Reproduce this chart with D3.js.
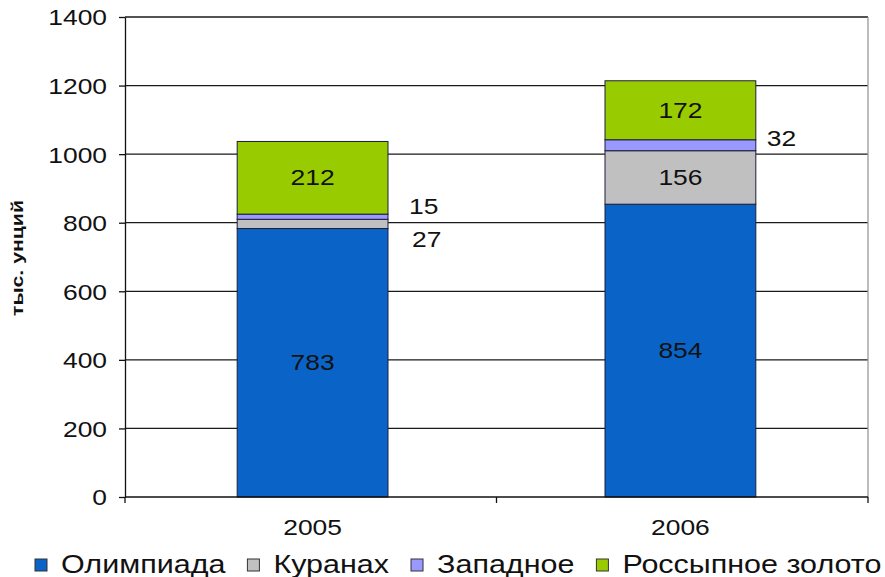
<!DOCTYPE html>
<html>
<head>
<meta charset="utf-8">
<script src="https://cdn.jsdelivr.net/npm/d3@7"></script>
<style>
  body { margin: 0; background: #fff; }
  svg { display: block; font-family: "Liberation Sans", Arial, sans-serif; }
</style>
</head>
<body>
<svg id="chart" width="885" height="577"></svg>
<script>
// data
const years = ["2005", "2006"];
const seriesNames = ["Олимпиада", "Куранах", "Западное", "Россыпное золото"];
const olimpiada = [783, 854];
const kuranakh = [27, 156];
const zapadnoe = [15, 32];
const rossypnoe = [212, 172];
const seriesColors = ["#0a64c8", "#c0c0c0", "#9999ff", "#99cc00"];
const yTicks = [0, 200, 400, 600, 800, 1000, 1200, 1400];

// small segments get their label outside the bar: [dx from bar edge, dy from segment middle]
const outsideLabel = {
  "2005|Куранах": [24, 16],
  "2005|Западное": [21, -10],
  "2006|Западное": [11, -7]
};

const margin = { top: 17, right: 17, bottom: 80, left: 125 };
const width = 885, height = 577;
const sx = 1.2;       // the picture is stretched sideways
const sxLegend = 1.22;

const svg = d3.select("#chart");

const x = d3.scaleBand().domain(years)
  .range([margin.left, width - margin.right])
  .paddingInner(0.59).paddingOuter(0.305);
const y = d3.scaleLinear().domain([0, 1400]).range([height - margin.bottom, margin.top]);

const valuesBySeries = [olimpiada, kuranakh, zapadnoe, rossypnoe];
const table = years.map((yr, i) => {
  const row = { year: yr };
  seriesNames.forEach((s, j) => row[s] = valuesBySeries[j][i]);
  return row;
});
const stacked = d3.stack().keys(seriesNames)(table);

// grid
svg.append("g")
  .selectAll("line")
  .data(yTicks.filter(d => d > 0))
  .join("line")
  .attr("x1", x.range()[0]).attr("x2", x.range()[1])
  .attr("y1", d => y(d)).attr("y2", d => y(d))
  .attr("stroke", "#1a1a1a").attr("stroke-width", 1.3);

// right border of plot area
svg.append("line")
  .attr("x1", x.range()[1]).attr("x2", x.range()[1])
  .attr("y1", y(1400)).attr("y2", y(0))
  .attr("stroke", "#999").attr("stroke-width", 1.3);

// bars
const layer = svg.append("g")
  .selectAll("g")
  .data(stacked)
  .join("g")
  .attr("fill", (d, i) => seriesColors[i]);

layer.selectAll("rect")
  .data(d => d.map(p => Object.assign(p, { key: d.key })))
  .join("rect")
  .attr("x", d => x(d.data.year))
  .attr("width", x.bandwidth())
  .attr("y", d => y(d[1]))
  .attr("height", d => y(d[0]) - y(d[1]))
  .attr("stroke", "#1c1c3c").attr("stroke-width", 1);

// value labels
const labels = [];
stacked.forEach(s => s.forEach(p => labels.push({ key: s.key, year: p.data.year, lo: p[0], hi: p[1], v: p[1] - p[0] })));

svg.append("g")
  .selectAll("text")
  .data(labels)
  .join("text")
  .attr("text-anchor", d => outsideLabel[d.year + "|" + d.key] ? "start" : "middle")
  .attr("font-size", 22)
  .attr("fill", "#111")
  .attr("transform", d => {
    const mid = y((d.lo + d.hi) / 2);
    const off = outsideLabel[d.year + "|" + d.key];
    const tx = off ? x(d.year) + x.bandwidth() + off[0] : x(d.year) + x.bandwidth() / 2;
    const ty = (off ? mid + off[1] : mid) + 7.5;
    return `translate(${tx},${ty}) scale(${sx},1)`;
  })
  .text(d => d.v);

// y axis
const yAxis = svg.append("g")
  .attr("transform", `translate(${margin.left},0)`)
  .call(d3.axisLeft(y).tickValues(yTicks).tickFormat(d3.format("d")).tickSize(6).tickSizeOuter(0));
yAxis.select(".domain").attr("stroke", "#111").attr("stroke-width", 1.3);
yAxis.selectAll(".tick line").attr("stroke", "#111").attr("stroke-width", 1.3);
yAxis.selectAll(".tick text")
  .attr("font-size", 22).attr("fill", "#111")
  .attr("font-family", null)
  .attr("x", -15).attr("dy", "0.36em")
  .attr("transform", `scale(${sx},1)`);

// x axis: line, ticks at the plot edges and between the categories
const xAxisY = y(0);
svg.append("line")
  .attr("x1", x.range()[0]).attr("x2", x.range()[1])
  .attr("y1", xAxisY).attr("y2", xAxisY)
  .attr("stroke", "#111").attr("stroke-width", 1.3);

const bounds = [x.range()[0], (x.range()[0] + x.range()[1]) / 2, x.range()[1]];
svg.append("g")
  .selectAll("line")
  .data(bounds)
  .join("line")
  .attr("x1", d => d).attr("x2", d => d)
  .attr("y1", xAxisY).attr("y2", xAxisY + 6)
  .attr("stroke", "#111").attr("stroke-width", 1.3);

svg.append("g")
  .selectAll("text")
  .data(years)
  .join("text")
  .attr("text-anchor", "middle")
  .attr("font-size", 22).attr("fill", "#111")
  .attr("transform", d => `translate(${x(d) + x.bandwidth() / 2},${xAxisY + 38}) scale(${sx},1)`)
  .text(d => d);

// y title
svg.append("text")
  .attr("text-anchor", "middle")
  .attr("font-size", 17).attr("font-weight", "bold").attr("fill", "#111")
  .attr("transform", `translate(23,258) rotate(-90) scale(1.25,1)`)
  .text("тыс. унций");

// legend
const legend = svg.append("g");
let lx = 35;
seriesNames.forEach((name, i) => {
  legend.append("rect")
    .attr("x", lx).attr("y", 559)
    .attr("width", 12).attr("height", 12)
    .attr("fill", seriesColors[i])
    .attr("stroke", "#333").attr("stroke-width", 1);
  const t = legend.append("text")
    .attr("font-size", 25).attr("fill", "#111")
    .attr("transform", `translate(${lx + 26},573) scale(${sxLegend},1)`)
    .text(name);
  lx = lx + 26 + t.node().getComputedTextLength() * sxLegend + 22;
});
</script>
</body>
</html>
